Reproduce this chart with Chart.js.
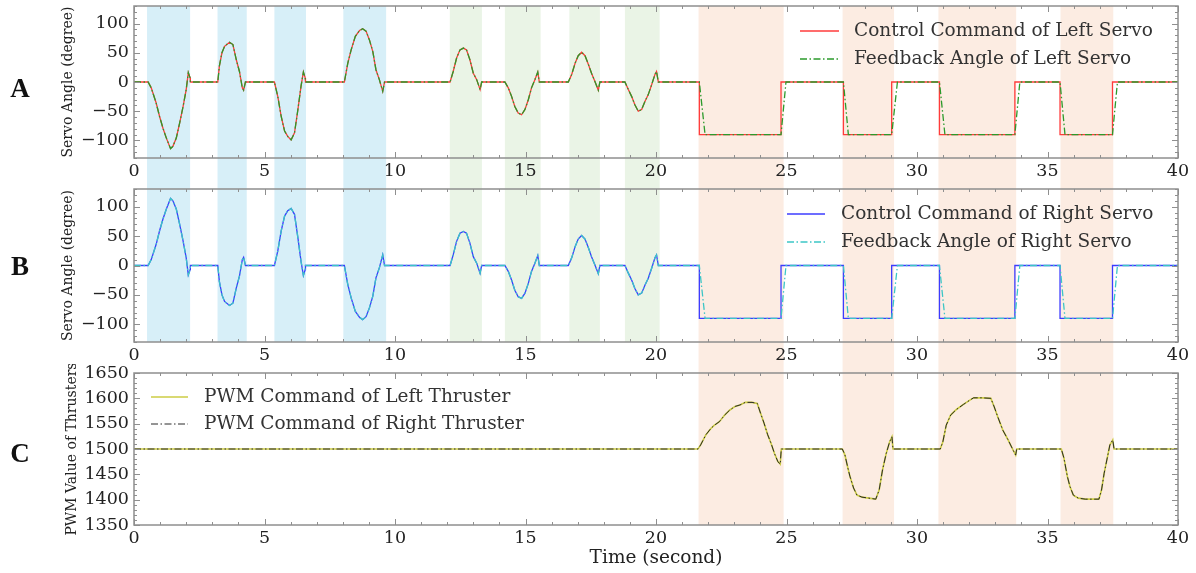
<!DOCTYPE html>
<html>
<head>
<meta charset="utf-8">
<script src="https://cdn.jsdelivr.net/npm/chart.js@4.4.1/dist/chart.umd.min.js"></script>
<style>
  body { margin: 0; background: #fff; width: 1196px; height: 573px; overflow: hidden; position: relative; }
  canvas { position: absolute; left: 0; }
</style>
</head>
<body>
<canvas id="panelA" width="1196" height="182" style="top:0"></canvas>
<canvas id="panelB" width="1196" height="182" style="top:182px"></canvas>
<canvas id="panelC" width="1196" height="209" style="top:364px"></canvas>
<script>
"use strict";

// ---- data ----
const xTicks = [0, 5, 10, 15, 20, 25, 30, 35, 40];
const servoTicks = [-100, -50, 0, 50, 100];
const pwmTicks = [1350, 1400, 1450, 1500, 1550, 1600, 1650];

// shaded manoeuvre intervals (seconds)
const blueBands = [[0.5, 2.15], [3.2, 4.32], [5.38, 6.59], [8.02, 9.66]];
const greenBands = [[12.1, 13.33], [14.21, 15.58], [16.68, 17.85], [18.81, 20.14]];
const orangeBands = [[21.63, 24.89], [27.15, 29.12], [30.82, 33.8], [35.5, 37.52]];

// turning part (0 - 21 s), same time base for both servos
const turnTime = [0, 0.54, 0.66, 0.85, 0.98, 1.11, 1.24, 1.40, 1.49, 1.62, 1.75, 1.88, 2.00, 2.08, 2.15, 2.16,
  3.21, 3.27, 3.37, 3.47, 3.66, 3.79, 3.92, 4.04, 4.15, 4.20, 4.27,
  5.38, 5.51, 5.64, 5.77, 5.89, 6.02, 6.15, 6.28, 6.40, 6.49, 6.56, 6.57,
  8.06, 8.19, 8.32, 8.48, 8.64, 8.76, 8.89, 9.02, 9.15, 9.27, 9.40, 9.53, 9.60,
  12.11, 12.23, 12.36, 12.49, 12.62, 12.74, 12.87, 13.00, 13.13, 13.26, 13.32,
  14.21, 14.34, 14.47, 14.59, 14.72, 14.85, 14.98, 15.11, 15.23, 15.36, 15.47, 15.53,
  16.64, 16.77, 16.90, 17.02, 17.15, 17.28, 17.41, 17.53, 17.66, 17.79, 17.85,
  18.81, 18.94, 19.07, 19.19, 19.32, 19.45, 19.58, 19.70, 19.83, 19.96, 20.02, 20.09];
const leftTurnDeg = [0, 0, -10, -36, -59, -79, -96, -114, -110, -96, -70, -42, -13, 16, 7, 0,
  0, 27, 50, 61, 68, 64, 38, 18, -10, -14, 0,
  0, -25, -59, -84, -93, -99, -87, -47, -7, 17, 7, 0,
  0, 32, 55, 78, 88, 91, 87, 72, 52, 21, 4, -16, 0,
  0, 18, 41, 55, 58, 55, 38, 15, 4, -13, 0,
  0, -10, -25, -42, -53, -56, -47, -30, -10, 4, 17, 0,
  0, 13, 32, 45, 51, 45, 30, 15, 1, -14, 0,
  0, -13, -25, -39, -50, -47, -33, -22, -5, 13, 18, 0];
const rightTurnDeg = [0, 0, 10, 36, 59, 79, 96, 114, 110, 96, 70, 42, 13, -16, -7, 0,
  0, -27, -50, -61, -68, -64, -38, -18, 10, 14, 0,
  0, 25, 59, 84, 93, 97, 87, 47, 7, -17, -7, 0,
  0, -32, -55, -78, -88, -92, -87, -72, -52, -21, -4, 18, 0,
  0, 18, 41, 55, 58, 55, 38, 15, 4, -13, 0,
  0, -10, -25, -42, -53, -56, -47, -30, -10, 4, 17, 0,
  0, 13, 32, 45, 51, 45, 30, 15, 1, -14, 0,
  0, -13, -25, -39, -50, -47, -33, -22, -5, 13, 18, 0];

// diving part (21 - 40 s): step commands and lagging feedback
const cmdStepTime = [21.66, 21.66, 24.79, 24.79, 27.18, 27.18, 29.03, 29.03,
  30.86, 30.86, 33.75, 33.75, 35.48, 35.48, 37.49, 37.49, 40];
const fbStepTime = [21.66, 21.88, 24.79, 24.98, 27.18, 27.37, 29.03, 29.25,
  30.86, 31.07, 33.75, 33.94, 35.48, 35.67, 37.49, 37.68, 40];
const stepDeg = [0, -90, -90, 0, 0, -90, -90, 0, 0, -90, -90, 0, 0, -90, -90, 0, 0];

// thruster PWM commands
const pwmTime = [0, 21.61, 21.71, 21.91, 22.11, 22.24, 22.43, 22.63, 22.83, 23.03, 23.22, 23.42, 23.68,
  23.88, 24.01, 24.14, 24.28, 24.41, 24.54, 24.67, 24.76, 24.80,
  27.14, 27.24, 27.34, 27.43, 27.57, 27.70, 27.89, 28.16, 28.42, 28.55, 28.68, 28.82, 28.95, 29.04, 29.08,
  30.89, 30.99, 31.12, 31.29, 31.51, 31.78, 32.04, 32.17, 32.50, 32.83, 32.96, 33.09, 33.29, 33.49,
  33.68, 33.78, 33.82,
  35.53, 35.63, 35.76, 35.86, 35.99, 36.18, 36.45, 36.97, 37.07, 37.17, 37.30, 37.39, 37.50, 37.55, 40];
const pwmLeft = [1500, 1500, 1508, 1528, 1541, 1547, 1554, 1567, 1577, 1584, 1587, 1592, 1592,
  1590, 1570, 1551, 1528, 1511, 1491, 1475, 1470, 1500,
  1500, 1488, 1465, 1446, 1423, 1409, 1405, 1403, 1401, 1419, 1459, 1491, 1514, 1524, 1500,
  1500, 1514, 1547, 1567, 1578, 1588, 1597, 1601, 1601, 1600, 1583, 1564, 1537, 1518,
  1498, 1488, 1500,
  1500, 1482, 1446, 1426, 1409, 1403, 1401, 1401, 1419, 1452, 1485, 1508, 1518, 1500, 1500];
const pwmRight = pwmLeft; // both thrusters received the same command

// ---- helpers ----
const SERIF = '"DejaVu Serif", serif';
const tickFont = { family: SERIF, size: 17.5 };

function pts(t, v) {
  return t.map(function (x, i) { return { x: x, y: v[i] }; });
}

function fmt(v) {
  return v < 0 ? '\u2212' + Math.abs(v) : String(v);
}

function xScale(h, title) {
  return {
    type: 'linear', min: 0, max: 40,
    grid: { display: false, drawTicks: false },
    border: { display: false },
    afterBuildTicks: function (s) { s.ticks = xTicks.map(function (v) { return { value: v }; }); },
    ticks: { font: tickFont, color: '#222', padding: 3, maxRotation: 0, autoSkip: false },
    title: title ? { display: true, text: title, font: { family: SERIF, size: 18.5 }, color: '#222', padding: { top: 0, bottom: 4 } } : { display: false },
    afterFit: function (s) { s.height = h; s.paddingLeft = 0; s.paddingRight = 0; }
  };
}

function yScale(w, min, max, tickList, title) {
  return {
    type: 'linear', min: min, max: max,
    grid: { display: false, drawTicks: false },
    border: { display: false },
    afterBuildTicks: function (s) { s.ticks = tickList.map(function (v) { return { value: v }; }); },
    ticks: { font: tickFont, color: '#222', padding: 5, autoSkip: false, callback: fmt },
    title: { display: true, text: title, font: { family: SERIF, size: 14 }, color: '#222', padding: 0 },
    afterFit: function (s) { s.width = w; s.paddingTop = 0; s.paddingBottom = 0; }
  };
}

function line(label, data, color, dashed, width, order) {
  return {
    label: label, data: data, borderColor: color, borderWidth: width,
    borderDash: dashed ? [7, 2.5, 1.5, 2.5] : [], pointRadius: 0, tension: 0, order: order
  };
}

const panelDecor = {
  id: 'panelDecor',
  beforeDraw: function (chart, args, o) {
    const ctx = chart.ctx, a = chart.chartArea, x = chart.scales.x;
    ctx.save();
    o.bands.forEach(function (b) {
      ctx.fillStyle = b.color;
      const top = b.up ? 0 : a.top;
      const bottom = b.down ? chart.height : a.bottom;
      b.spans.forEach(function (s) {
        const x0 = x.getPixelForValue(s[0]), x1 = x.getPixelForValue(s[1]);
        ctx.fillRect(x0, top, x1 - x0, bottom - top);
      });
    });
    ctx.restore();
  },
  afterDatasetsDraw: function (chart, args, o) {
    const ctx = chart.ctx, a = chart.chartArea, x = chart.scales.x, y = chart.scales.y;
    ctx.save();
    ctx.strokeStyle = '#8f8f8f';
    ctx.lineWidth = 1;
    ctx.beginPath();
    for (let v = x.min; v <= x.max; v += 1) {
      const px = Math.round(x.getPixelForValue(v)) + 0.5;
      const len = v % 5 === 0 ? 6 : 3;
      ctx.moveTo(px, a.bottom); ctx.lineTo(px, a.bottom - len);
      ctx.moveTo(px, a.top); ctx.lineTo(px, a.top + len);
    }
    for (let v = y.min; v <= y.max; v += 10) {
      const py = Math.round(y.getPixelForValue(v)) + 0.5;
      const len = v % 50 === 0 ? 6 : 3;
      ctx.moveTo(a.left, py); ctx.lineTo(a.left + len, py);
      ctx.moveTo(a.right, py); ctx.lineTo(a.right - len, py);
    }
    ctx.stroke();
    ctx.lineWidth = 1.5;
    ctx.strokeRect(a.left, a.top, a.right - a.left, a.bottom - a.top);
    ctx.restore();
  },
  afterDraw: function (chart, args, o) {
    const ctx = chart.ctx;
    ctx.save();
    chart.data.datasets.forEach(function (ds, i) {
      const ry = o.legend.rows[i];
      ctx.strokeStyle = ds.borderColor;
      ctx.lineWidth = ds.borderWidth;
      ctx.setLineDash(ds.borderDash);
      ctx.beginPath();
      ctx.moveTo(o.legend.x0, ry); ctx.lineTo(o.legend.x1, ry);
      ctx.stroke();
      ctx.setLineDash([]);
      ctx.fillStyle = '#333';
      ctx.font = '18.5px ' + SERIF;
      ctx.textBaseline = 'middle';
      ctx.textAlign = 'left';
      ctx.fillText(ds.label, o.legend.tx, ry);
    });
    ctx.fillStyle = '#111';
    ctx.font = 'bold 27px "Liberation Serif", serif';
    ctx.textAlign = 'center';
    ctx.textBaseline = 'middle';
    ctx.fillText(o.letter, 20, o.letterY);
    ctx.restore();
  }
};

const BLUE = 'rgba(135, 206, 235, 0.33)';
const GREEN = 'rgba(180, 215, 165, 0.28)';
const ORANGE = 'rgba(245, 180, 140, 0.25)';

function makePanel(id, datasets, scales, padding, decor) {
  return new Chart(document.getElementById(id), {
    type: 'line',
    data: { datasets: datasets },
    options: {
      responsive: false,
      animation: false,
      layout: { padding: padding },
      scales: scales,
      plugins: { legend: { display: false }, tooltip: { enabled: false }, panelDecor: decor }
    },
    plugins: [panelDecor]
  });
}

// panel A: left servo
makePanel('panelA', [
  line('Control Command of Left Servo', pts(turnTime, leftTurnDeg).concat(pts(cmdStepTime, stepDeg)), '#ff3b3b', false, 1.3, 2),
  line('Feedback Angle of Left Servo', pts(turnTime, leftTurnDeg).concat(pts(fbStepTime, stepDeg)), '#2b9a2b', true, 1.3, 1)
], { x: xScale(24), y: yScale(74, -130, 130, servoTicks, 'Servo Angle (degree)') },
{ top: 6, left: 60, right: 18, bottom: 0 },
{
  bands: [
    { spans: blueBands, color: BLUE, up: false, down: true },
    { spans: greenBands, color: GREEN, up: false, down: true },
    { spans: orangeBands, color: ORANGE, up: false, down: true }
  ],
  legend: { x0: 800, x1: 839, tx: 854, rows: [31, 59] },
  letter: 'A', letterY: 90
});

// panel B: right servo
makePanel('panelB', [
  line('Control Command of Right Servo', pts(turnTime, rightTurnDeg).concat(pts(cmdStepTime, stepDeg)), '#3c3cff', false, 1.3, 2),
  line('Feedback Angle of Right Servo', pts(turnTime, rightTurnDeg).concat(pts(fbStepTime, stepDeg)), '#3cc6c6', true, 1.3, 1)
], { x: xScale(22), y: yScale(74, -130, 130, servoTicks, 'Servo Angle (degree)') },
{ top: 7, left: 60, right: 18, bottom: 0 },
{
  bands: [
    { spans: blueBands, color: BLUE, up: true, down: false },
    { spans: greenBands, color: GREEN, up: true, down: false },
    { spans: orangeBands, color: ORANGE, up: true, down: true }
  ],
  legend: { x0: 787, x1: 825, tx: 841, rows: [32, 60] },
  letter: 'B', letterY: 86
});

// panel C: thrusters
makePanel('panelC', [
  line('PWM Command of Left Thruster', pts(pwmTime, pwmLeft), '#cccc44', false, 1.6, 2),
  line('PWM Command of Right Thruster', pts(pwmTime, pwmRight), '#2a2a2a', true, 1, 1)
], { x: xScale(48, 'Time (second)'), y: yScale(70, 1350, 1650, pwmTicks, 'PWM Value of Thrusters') },
{ top: 9, left: 64, right: 18, bottom: 0 },
{
  bands: [
    { spans: orangeBands, color: ORANGE, up: true, down: false }
  ],
  legend: { x0: 151, x1: 188, tx: 204, rows: [33, 60] },
  letter: 'C', letterY: 91
});
</script>
</body>
</html>
